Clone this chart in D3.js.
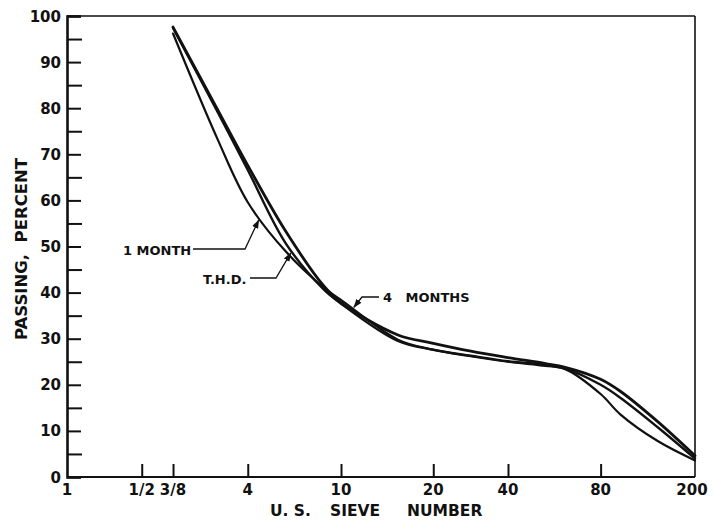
<!DOCTYPE html>
<html>
<head>
<meta charset="utf-8">
<script src="https://cdn.jsdelivr.net/npm/d3@7"></script>
<style>
  html, body { margin: 0; padding: 0; background: #fff; }
  svg { display: block; }
  text { font-family: "DejaVu Sans", "Liberation Sans", Arial, sans-serif; font-weight: bold; fill: #111; }
</style>
</head>
<body>
<svg id="chart" width="713" height="524"></svg>
<script>
// Sieve axis: label and opening size (mm)
const sieveLabels   = ["1", "1/2", "3/8", "4", "10", "20", "40", "80", "200"];
const sieveOpenings = [25.4, 12.7, 9.5, 4.75, 2.0, 0.85, 0.425, 0.18, 0.075];

// Percent axis ticks
const percentTicks = [0, 10, 20, 30, 40, 50, 60, 70, 80, 90, 100];
const percentMinor = [5, 15, 25, 35, 45, 55, 65, 75, 85, 95];

// Grain sizes (mm) at which each gradation curve is read
const gradationSizes = [9.5, 6.3, 4.75, 3.35, 2.36, 2.0, 1.18, 0.85, 0.6, 0.425, 0.3, 0.25, 0.18, 0.15, 0.106, 0.075];

// Percent passing for each sample
const oneMonth   = [96.2, 73.4, 59.6, 49.0, 41.2, 38.4, 29.8, 27.6, 26.2, 25.0, 24.1, 23.4, 18.0, 13.6, 7.8, 3.6];
const thd        = [97.4, 79.3, 66.6, 50.8, 40.8, 37.6, 29.5, 27.6, 26.3, 25.1, 24.3, 23.5, 20.0, 17.2, 10.8, 4.0];
const fourMonths = [97.6, 79.8, 67.6, 53.4, 41.6, 37.8, 30.8, 29.0, 27.3, 25.9, 24.6, 23.8, 21.2, 18.6, 12.0, 4.6];

const seriesNames = ["1 MONTH", "T.H.D.", "4 MONTHS"];
const seriesValues = [oneMonth, thd, fourMonths];

const svg = d3.select("#chart");
const plotLeft = 67, plotRight = 695, plotTop = 16, plotBottom = 477;

const x = d3.scaleLog().domain([25.4, 0.075]).range([plotLeft, plotRight]);
const y = d3.scaleLinear().domain([0, 100]).range([plotBottom, plotTop]);

// Frame: top and right borders
svg.append("line").attr("x1", plotLeft).attr("x2", plotRight).attr("y1", plotTop).attr("y2", plotTop)
  .attr("stroke", "#111").attr("stroke-width", 1.6);
svg.append("line").attr("x1", plotRight).attr("x2", plotRight).attr("y1", plotTop).attr("y2", plotBottom)
  .attr("stroke", "#111").attr("stroke-width", 1.6);

// Left axis with inward ticks
const yAxis = d3.axisRight(y).tickValues(percentTicks).tickSize(14).tickFormat("");
const gy = svg.append("g").attr("transform", `translate(${plotLeft},0)`).call(yAxis);
gy.select(".domain").attr("stroke", "#111").attr("stroke-width", 2.6);
gy.selectAll(".tick line").attr("stroke", "#111").attr("stroke-width", 2);
const yMinor = d3.axisRight(y).tickValues(percentMinor).tickSize(15).tickFormat("");
const gym = svg.append("g").attr("transform", `translate(${plotLeft},0)`).call(yMinor);
gym.select(".domain").remove();
gym.selectAll(".tick line").attr("stroke", "#111").attr("stroke-width", 2);

// Percent labels
svg.append("g").selectAll("text").data(percentTicks).join("text")
  .attr("x", plotLeft - 6).attr("y", d => y(d)).attr("dy", "0.37em")
  .attr("text-anchor", "end").attr("font-size", 15).text(d => d);

// Bottom axis with inward ticks at sieve sizes
const xAxis = d3.axisTop(x).tickValues(sieveOpenings.slice(1, -1)).tickSize(13).tickFormat("");
const gx = svg.append("g").attr("transform", `translate(0,${plotBottom})`).call(xAxis);
gx.select(".domain").attr("stroke", "#111").attr("stroke-width", 2.2).attr("d", `M${plotLeft},0H${plotRight}`);
gx.selectAll(".tick line").attr("stroke", "#111").attr("stroke-width", 2);

svg.append("g").selectAll("text").data(sieveOpenings).join("text")
  .attr("x", (d, i) => x(d) + (i === sieveOpenings.length - 1 ? -3 : 0)).attr("y", 495)
  .attr("text-anchor", "middle")
  .attr("font-size", 15).text((d, i) => sieveLabels[i]);

// Axis titles
const xTitle = [["U. S.", 270], ["SIEVE", 330], ["NUMBER", 407]];
svg.append("g").selectAll("text").data(xTitle).join("text")
  .attr("x", d => d[1]).attr("y", 516).attr("font-size", 15.5).text(d => d[0]);
svg.append("text").attr("transform", "translate(27,249) rotate(-90)")
  .attr("text-anchor", "middle").attr("font-size", 16.5).style("white-space", "pre")
  .text("PASSING,  PERCENT");

// Gradation curves
const line = d3.line()
  .x(d => x(d[0])).y(d => y(d[1]))
  .curve(d3.curveCatmullRom.alpha(0.5));
const widths = [2.2, 2.4, 2.8];
seriesValues.forEach((vals, k) => {
  const pts = gradationSizes.map((s, i) => [s, vals[i]]);
  svg.append("path").datum(pts).attr("d", line)
    .attr("fill", "none").attr("stroke", "#111").attr("stroke-width", widths[k])
    .attr("stroke-linecap", "round").attr("stroke-linejoin", "round");
});

// Arrowhead marker for leader lines
svg.append("defs").append("marker").attr("id", "arrow")
  .attr("viewBox", "0 0 10 10").attr("refX", 9).attr("refY", 5)
  .attr("markerWidth", 7).attr("markerHeight", 7).attr("orient", "auto")
  .append("path").attr("d", "M0,1.5L10,5L0,8.5Z").attr("fill", "#111");

// Curve labels with leaders pointing at a point on each curve
const labelSpecs = [
  { name: seriesNames[0], tx: 123, ty: 255, path: [[193, 249], [245, 249]], size: 4.25, series: 0 },
  { name: seriesNames[1], tx: 203, ty: 284, path: [[250, 278], [276, 278]], size: 3.15, series: 1 },
  { name: seriesNames[2], tx: 383, ty: 302, path: [[379, 297], [362, 297]], size: 1.8, series: 2 }
];
labelSpecs.forEach(l => {
  svg.append("text").attr("x", l.tx).attr("y", l.ty)
    .attr("font-size", 13).style("white-space", "pre")
    .text(l.name === "4 MONTHS" ? "4   MONTHS" : l.name);
  const pts = gradationSizes.map((s, i) => [s, seriesValues[l.series][i]]);
  // curve value at the target size, interpolated on the log axis
  const idx = gradationSizes.findIndex(s => s < l.size);
  const a = pts[idx - 1], b = pts[idx];
  const t = (Math.log(a[0]) - Math.log(l.size)) / (Math.log(a[0]) - Math.log(b[0]));
  const v = a[1] + t * (b[1] - a[1]);
  const tip = [x(l.size), y(v)];
  const end = l.path[l.path.length - 1];
  const dx = tip[0] - end[0], dy = tip[1] - end[1], len = Math.hypot(dx, dy);
  const tipPt = [tip[0] - dx / len * 2.5, tip[1] - dy / len * 2.5];
  svg.append("path")
    .attr("d", d3.line()([...l.path, tipPt]))
    .attr("fill", "none").attr("stroke", "#111").attr("stroke-width", 1.3)
    .attr("marker-end", "url(#arrow)");
});
</script>
</body>
</html>
